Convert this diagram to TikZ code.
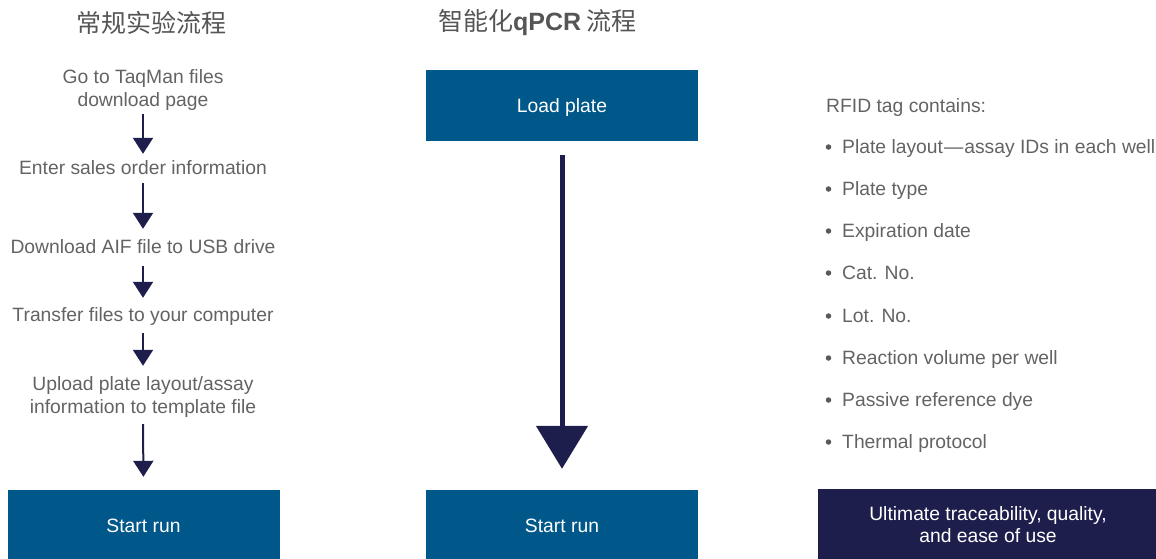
\documentclass[tikz,border=0pt]{standalone}
\usepackage{fontspec}
\setmainfont{Liberation Sans}
\newfontfamily\cjkfont{Noto Sans CJK SC}
\usetikzlibrary{arrows.meta}
\definecolor{txtgray}{HTML}{636363}
\definecolor{titlegray}{HTML}{555555}
\definecolor{boxblue}{HTML}{00578A}
\definecolor{navy}{HTML}{1E1E4C}
\tikzset{
  body/.style={font=\fontsize{19.3}{23}\selectfont, text=txtgray, inner sep=0pt,
    text height=14pt, text depth=5pt, align=center},
  bodytwo/.style={body, text height=37pt, text depth=5pt},
  listitem/.style={font=\fontsize{19.3}{23}\selectfont, text=txtgray, inner sep=0pt, anchor=base west},
  bulletdot/.style={circle, fill=txtgray!90!black, inner sep=0pt, minimum size=5.5pt},
  title/.style={font=\cjkfont\fontsize{25}{29}\selectfont, text=titlegray, inner sep=0pt},
  stepbox/.style={fill=boxblue, text=white, font=\fontsize{19.3}{23}\selectfont, inner sep=0pt,
    minimum width=272pt, minimum height=71pt, text height=13pt, text depth=0pt},
  resultbox/.style={fill=navy, text=white, font=\fontsize{19.3}{22}\selectfont, inner sep=0pt,
    minimum width=340pt, minimum height=71pt, align=center, text height=35pt, text depth=0pt},
  smallarrow/.style={draw=navy, line width=2pt, -{Triangle[length=16pt,width=20pt]}},
  bigarrow/.style={draw=navy, line width=5pt, -{Triangle[length=43pt,width=51pt]}},
}
\begin{document}
\begin{tikzpicture}[x=1pt,y=-1pt]
\useasboundingbox (0,0) rectangle (1156,558);
\clip (0,0) rectangle (1156,558);

% titles
\node[title] (t1) at (151.5,23) {常规实验流程};
\node[title] (t2) at (537.5,23) {智能化{\fontspec{Liberation Sans}\bfseries qPCR} 流程};

% left column
\node[bodytwo, anchor=base] (s1) at (143,106) {Go to TaqMan files\\download page};
\node[body, anchor=base] (s2) at (143,174) {Enter sales order information};
\node[body, anchor=base] (s3) at (143,253) {Download AIF file to USB drive};
\node[body, anchor=base] (s4) at (143,321) {Transfer files to your computer};
\node[bodytwo, anchor=base] (s5) at (143,413) {Upload plate layout/assay\\information to template file};
\node[stepbox] (r1) at (143.5,525.5) {Start run};

\draw[smallarrow, shorten <=3pt, shorten >=6pt] (s1.south) -- (s2.north);
\draw[smallarrow, shorten <=4pt, shorten >=10pt] (s2.south) -- (s3.north);
\draw[smallarrow, shorten <=8pt, shorten >=9pt] (s3.south) -- (s4.north);
\draw[smallarrow, shorten <=7pt, shorten >=10pt] (s4.south) -- (s5.north);
\draw[smallarrow, shorten <=6pt, shorten >=13pt] (s5.south) -- (r1.north);

% middle column
\node[stepbox] (m1) at (562,105.5) {Load plate};
\node[stepbox] (m2) at (562,525.5) {Start run};
\draw[bigarrow, shorten <=14pt, shorten >=21pt] (m1.south) -- (m2.north);

% right column
\node[listitem] (rfid) at (826,112) {RFID tag contains:};
\foreach \y/\t [count=\i] in {153/{Plate layout\kern1pt—\kern1pt assay IDs in each well},
  195/{Plate type}, 237/{Expiration date}, 279/{Cat. No.}, 322/{Lot. No.},
  364/{Reaction volume per well}, 406/{Passive reference dye}, 448/{Thermal protocol}}{
  \node[bulletdot] (b\i) at (828.5,\y-6) {};
  \node[listitem] (i\i) at (842,\y) {\t};
}
\node[resultbox] (res) at (988,524.5) {Ultimate traceability, quality,\\and ease of use};
\end{tikzpicture}
\end{document}
